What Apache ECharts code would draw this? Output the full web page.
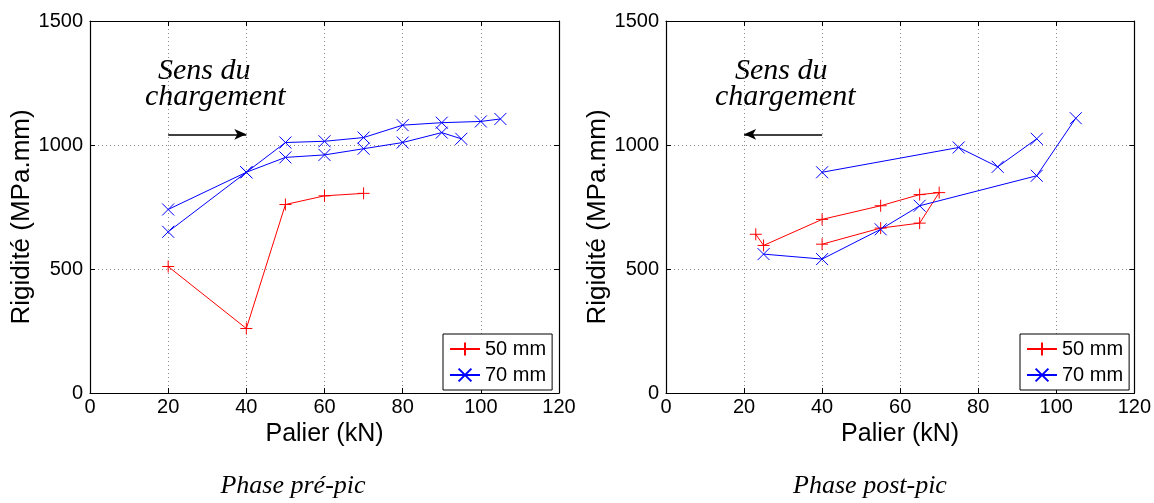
<!DOCTYPE html>
<html>
<head>
<meta charset="utf-8">
<script src="https://cdn.jsdelivr.net/npm/echarts@6/dist/echarts.min.js"></script>
<style>
html,body{margin:0;padding:0;background:#fff;}
#c{width:1154px;height:503px;}
</style>
</head>
<body>
<div id="c"></div>
<script>
// ---- Data (Palier kN, Rigidité MPa.mm) ----
const xTicks = [0, 20, 40, 60, 80, 100, 120];
const yTicks = [0, 500, 1000, 1500];

// Phase pré-pic
const pre50 = [[20, 510], [40, 260], [50, 760], [60, 795], [70, 805]];
const pre70a = [[20, 740], [40, 890], [50, 950], [60, 960], [70, 985], [80, 1010], [90, 1050], [95, 1025]];
const pre70b = [[20, 650], [40, 890], [50, 1010], [60, 1015], [70, 1030], [80, 1080], [90, 1090], [100, 1095], [105, 1105]];
const preArrow = [[20, 1043], [40, 1043]];

// Phase post-pic
const post50 = [[40, 600], [55, 665], [65, 685], [70, 808], [65, 800], [55, 755], [40, 700], [25, 595], [23, 640]];
const post70a = [[40, 890], [75, 990], [85, 912], [95, 1025]];
const post70b = [[105, 1108], [95, 876], [65, 755], [55, 660], [40, 540], [25, 560]];
const postArrow = [[40, 1043], [20, 1043]];

const seriesNames = ['50 mm', '70 mm'];
const titles = ['Phase pré-pic', 'Phase post-pic'];
const xName = 'Palier (kN)';
const yName = 'Rigidité (MPa.mm)';
const annot = ['Sens du', 'chargement'];

const RED = '#ff0000', BLUE = '#0000ff';
const PLUS = 'path://M0,6L12,6M6,0L6,12';
const CROSS = 'path://M0,0L12,12M12,0L0,12';
const SANS = '"Liberation Sans", Arial, sans-serif';
const SERIF = '"Liberation Serif", "Times New Roman", serif';

const chart = echarts.init(document.getElementById('c'), null, {renderer: 'canvas'});

const grids = [
  {left: 90, right: 1154 - 559, top: 21, bottom: 503 - 393},
  {left: 666, right: 1154 - 1135, top: 21, bottom: 503 - 393}
];

function xAxisFor(i, pos) {
  const main = pos === 'bottom';
  return {
    type: 'value', gridIndex: i, position: pos, min: xTicks[0], max: xTicks[xTicks.length - 1], interval: 20,
    name: main ? xName : '', nameLocation: 'middle', nameGap: 22,
    nameTextStyle: {fontFamily: SANS, fontSize: 25, color: '#000'},
    axisLine: {show: true, onZero: false, lineStyle: {color: '#000', width: 1.2}},
    axisTick: {show: true, inside: true, length: 5, lineStyle: {color: '#000'}},
    axisLabel: {show: main, fontFamily: SANS, fontSize: 20, color: '#000', margin: 4, formatter: v => String(v)},
    splitLine: {show: main, lineStyle: {color: '#888', type: [1, 3], width: 1}}
  };
}
function yAxisFor(i, pos) {
  const main = pos === 'left';
  return {
    type: 'value', gridIndex: i, position: pos, min: yTicks[0], max: yTicks[yTicks.length - 1], interval: 500,
    name: main ? yName : '', nameLocation: 'middle', nameGap: 52,
    nameTextStyle: {fontFamily: SANS, fontSize: 26, color: '#000', padding: [0, 20, 0, 0]},
    axisLine: {show: true, onZero: false, lineStyle: {color: '#000', width: 1.2}},
    axisTick: {show: true, inside: true, length: 5, lineStyle: {color: '#000'}},
    axisLabel: {show: main, fontFamily: SANS, fontSize: 20, color: '#000', margin: 7, formatter: v => String(v)},
    splitLine: {show: main, lineStyle: {color: '#888', type: [1, 3], width: 1}}
  };
}

function lineSeries(name, data, color, symbol, gi, extra) {
  return Object.assign({
    type: 'line', name: name, data: data, xAxisIndex: gi * 2, yAxisIndex: gi * 2,
    symbol: symbol, symbolSize: 12, showAllSymbol: true,
    lineStyle: {color: color, width: 1},
    itemStyle: {color: color, borderColor: color, borderWidth: 1},
    emphasis: {disabled: true}, silent: true, animation: false
  }, extra || {});
}

function arrowMark(pts) {
  return {
    markLine: {
      silent: true, animation: false,
      symbol: ['none', 'arrow'], symbolSize: [8, 12],
      lineStyle: {color: '#000', width: 1.5, type: 'solid'},
      label: {show: false},
      data: [[{coord: pts[0]}, {coord: pts[1]}]]
    }
  };
}

function legendFor(left) {
  return {
    left: left, top: 334, orient: 'vertical',
    data: seriesNames,
    backgroundColor: '#fff', borderColor: '#000', borderWidth: 1,
    padding: [5, 6, 5, 6], itemGap: 6, itemWidth: 30, itemHeight: 16,
    textStyle: {fontFamily: SANS, fontSize: 20, color: '#000'},
    selectedMode: false
  };
}

function textEl(str, x, y, size, align) {
  return {
    type: 'text', x: x, y: y, silent: true,
    style: {text: str, fontFamily: SERIF, fontStyle: 'italic', fontSize: size, fill: '#000',
      textAlign: align || 'left', textVerticalAlign: 'bottom'}
  };
}

chart.setOption({
  animation: false,
  backgroundColor: '#fff',
  grid: grids,
  xAxis: [xAxisFor(0, 'bottom'), xAxisFor(0, 'top'), xAxisFor(1, 'bottom'), xAxisFor(1, 'top')]
    .map((a, k) => Object.assign(a, {gridIndex: k < 2 ? 0 : 1})),
  yAxis: [yAxisFor(0, 'left'), yAxisFor(0, 'right'), yAxisFor(1, 'left'), yAxisFor(1, 'right')]
    .map((a, k) => Object.assign(a, {gridIndex: k < 2 ? 0 : 1})),
  legend: [legendFor(443), legendFor(1020)],
  series: [
    lineSeries(seriesNames[0], pre50, RED, PLUS, 0, arrowMark(preArrow)),
    lineSeries(seriesNames[1], pre70a, BLUE, CROSS, 0),
    lineSeries(seriesNames[1], pre70b, BLUE, CROSS, 0),
    lineSeries(seriesNames[0], post50, RED, PLUS, 1, arrowMark(postArrow)),
    lineSeries(seriesNames[1], post70a, BLUE, CROSS, 1),
    lineSeries(seriesNames[1], post70b, BLUE, CROSS, 1)
  ],
  graphic: [
    textEl(annot[0], 158, 86, 30),
    textEl(annot[1], 145, 112, 30),
    textEl(annot[0], 735, 86, 30),
    textEl(annot[1], 715, 112, 30),
    textEl(titles[0], 293, 499, 26, 'center'),
    textEl(titles[1], 870, 499, 26, 'center')
  ]
});
</script>
</body>
</html>
